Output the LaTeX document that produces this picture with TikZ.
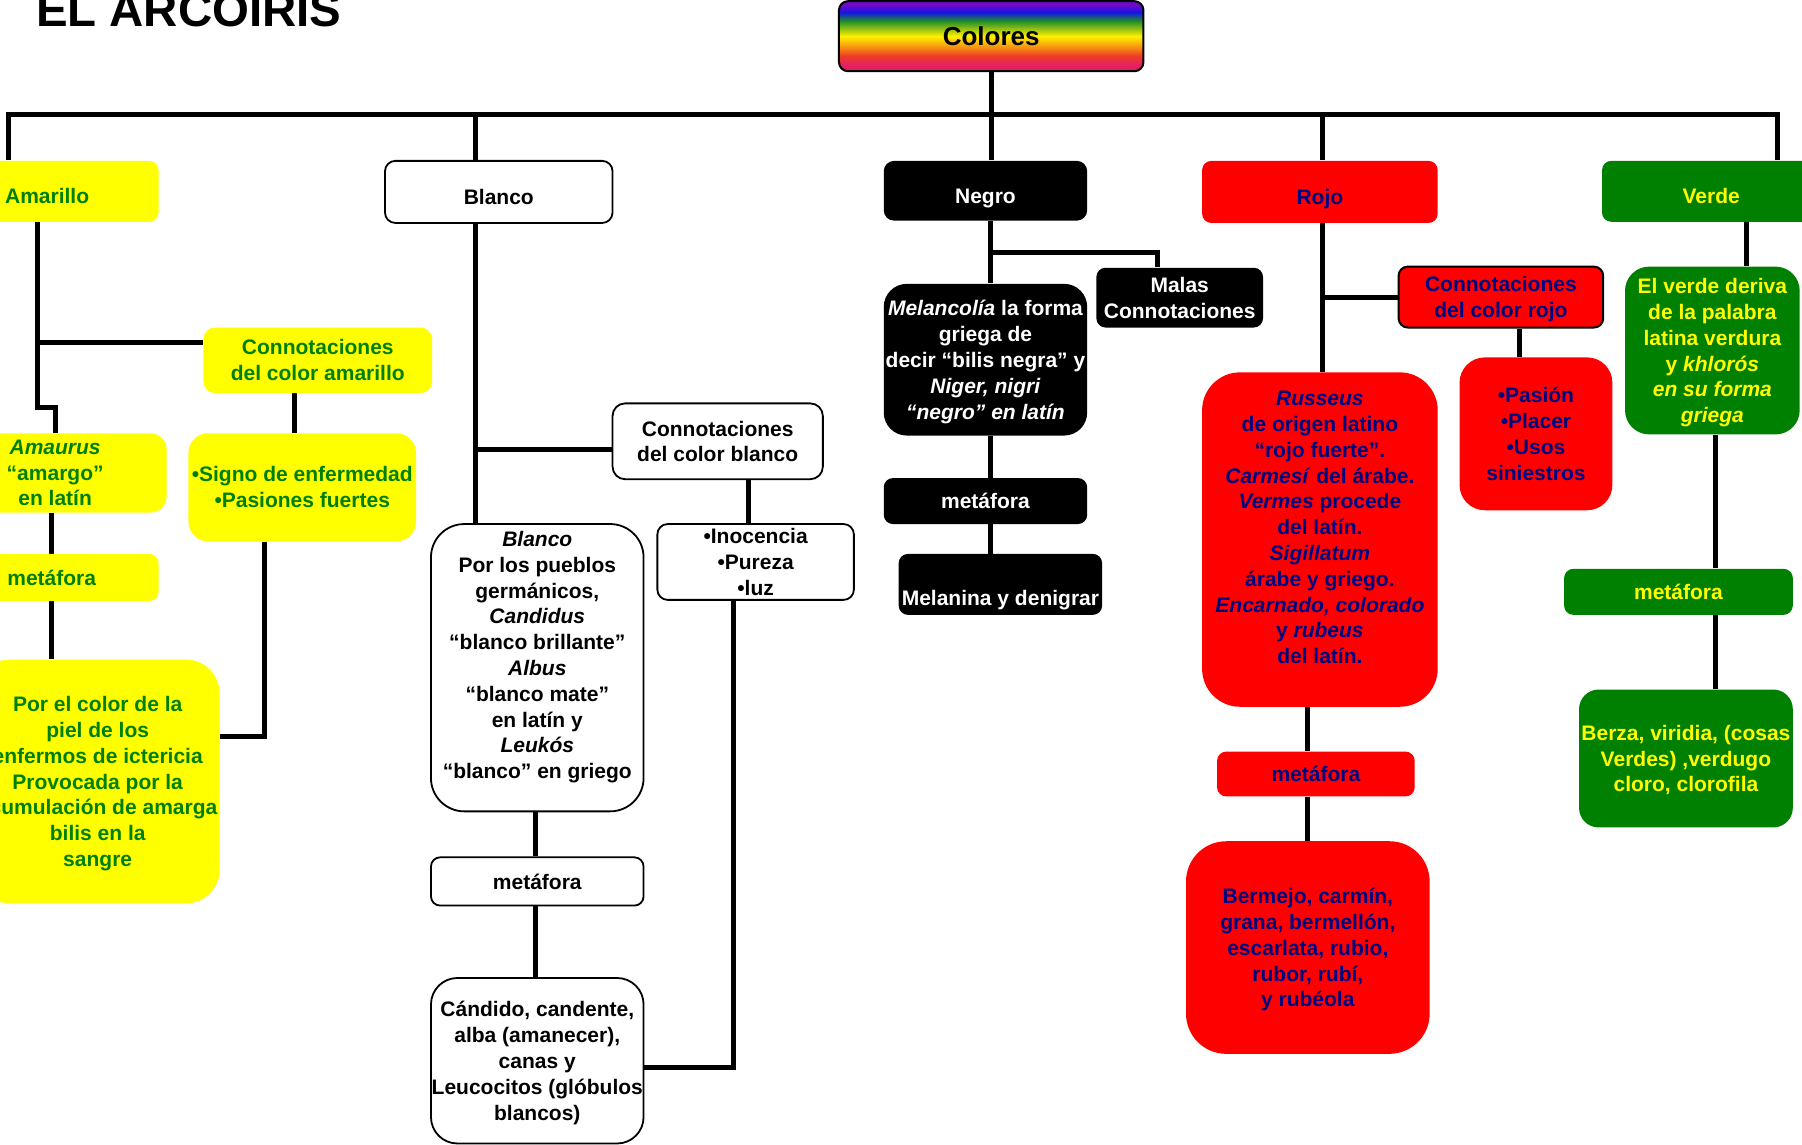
\documentclass[tikz,border=0pt]{standalone}
\usepackage{fontspec}
\setmainfont{Liberation Sans}
\usetikzlibrary{backgrounds}

\definecolor{yel}{RGB}{255,255,0}
\definecolor{grn}{RGB}{0,128,0}
\definecolor{navyblue}{RGB}{0,0,128}
\definecolor{rd}{RGB}{255,0,0}
% rainbow bands of the title box, bottom to top
\definecolor{rbA}{RGB}{228,32,100}
\definecolor{rbB}{RGB}{238,60,40}
\definecolor{rbC}{RGB}{245,130,20}
\definecolor{rbD}{RGB}{255,240,0}
\definecolor{rbE}{RGB}{30,140,40}
\definecolor{rbF}{RGB}{20,20,230}
\definecolor{rbG}{RGB}{110,10,200}
\pgfdeclareverticalshading{rainbowband}{100bp}{color(0bp)=(rbA); color(29bp)=(rbA); color(36bp)=(rbB); color(41bp)=(rbC); color(50bp)=(rbD); color(61bp)=(rbE); color(67bp)=(rbF); color(72bp)=(rbG); color(100bp)=(rbG)}

\newcommand\pxu{0.5746pt}

\tikzset{
  bx/.style={rectangle, inner sep=0pt, align=center, text depth=0pt, font=\bfseries\fontsize{10.5}{12.9}\selectfont},
  header/.style={text height=12.6pt, text depth=0pt},
  sz/.style n args={3}{minimum width=#1*\pxu, minimum height=#2*\pxu, rounded corners=#3*\pxu},
  ybox/.style={bx, fill=yel, text=grn},
  wbox/.style={bx, fill=white, draw=black, line width=0.9pt},
  kbox/.style={bx, fill=black, text=white},
  rbox/.style={bx, fill=rd, text=navyblue},
  gbox/.style={bx, fill=grn, text=yel},
  link/.style={line width=2.5pt}
}

\begin{document}
\begin{tikzpicture}[x=\pxu, y=-\pxu]
\useasboundingbox (0,0) rectangle (1568,996);

% title
\node[anchor=base west, inner sep=0pt, font=\bfseries\fontsize{23.7}{28}\selectfont] (title) at (31,23) {EL ARCOIRIS};

% root
\node[bx, sz={265}{61}{8}, draw=black, line width=1pt, shade, shading=rainbowband,
      font=\bfseries\fontsize{13}{15}\selectfont] (colores) at (862.5,31.5) {Colores};

% amarillo
\node[ybox, header, sz={194}{53}{8}] (amar) at (41,166.5) {Amarillo};
\node[ybox, sz={199}{57}{10}] (conam) at (276.5,313.5) {Connotaciones\\del color amarillo};
\node[ybox, sz={194}{69}{14}] (amaurus) at (48,411.5) {\textit{Amaurus}\\“amargo”\\en latín};
\node[ybox, sz={186}{41}{8}] (metaA) at (45,502.5) {metáfora};
\node[ybox, sz={212}{212}{29}] (icter) at (85,680) {Por el color de la\\piel de los\\enfermos de ictericia\\Provocada por la\\acumulación de amarga\\bilis en la\\sangre};
\node[ybox, sz={198}{94}{17}] (signo) at (263,424) {•Signo de enfermedad\\•Pasiones fuertes};

% blanco
\node[wbox, header, sz={198}{54}{9}] (blanco) at (434,167) {Blanco};
\node[wbox, sz={183}{66}{11}] (conbl) at (624.5,384) {Connotaciones\\del color blanco};
\node[wbox, sz={171}{66}{9}] (inoc) at (657.5,489) {•Inocencia\\•Pureza\\•luz};
\node[wbox, sz={185}{250}{29}] (bital) at (467.5,581) {};
\node[bx] (bitaltext) at (467.5,570) {\textit{Blanco}\\Por los pueblos\\germánicos,\\\textit{Candidus}\\“blanco brillante”\\\textit{Albus}\\“blanco mate”\\en latín y\\\textit{Leukós}\\“blanco” en griego};
\node[wbox, sz={185}{42}{8}] (metaB) at (467.5,767) {metáfora};
\node[wbox, sz={185}{144}{23}] (cand) at (467.5,923) {Cándido, candente,\\alba (amanecer),\\canas y\\Leucocitos (glóbulos\\blancos)};

% negro
\node[kbox, header, sz={177}{52}{9}] (negro) at (857.5,166) {Negro};
\node[kbox, sz={145}{52}{8}] (malas) at (1026.5,259) {Malas\\Connotaciones};
\node[kbox, sz={177}{132}{20}] (melan) at (857.5,313) {\textit{Melancolía} la forma\\griega de\\decir “bilis negra” y\\\textit{Niger, nigri}\\\textit{“negro” en latín}};
\node[kbox, sz={177}{40}{8}] (metaN) at (857.5,436) {metáfora};
\node[kbox, sz={177}{53}{8}] (melanina) at (870.5,508.5) {};
\node[bx, text=white] (melaninatext) at (870.5,520) {Melanina y denigrar};

% rojo
\node[rbox, header, sz={205}{54}{8}] (rojo) at (1148.5,167) {Rojo};
\node[rbox, draw=black, line width=1pt, sz={178}{53}{8}] (conro) at (1306,258.5) {Connotaciones\\del color rojo};
\node[rbox, sz={133}{133}{22}] (pasion) at (1336.5,377.5) {•Pasión\\•Placer\\•Usos\\siniestros};
\node[rbox, sz={205}{291}{33}] (russ) at (1148.5,469.5) {};
\node[bx, text=navyblue] (russtext) at (1148.5,459) {\textit{Russeus}\\de origen latino\\“rojo fuerte”.\\\textit{Carmesí} del árabe.\\\textit{Vermes} procede\\del latín.\\\textit{Sigillatum}\\árabe y griego.\\\textit{Encarnado, colorado}\\y \textit{rubeus}\\del latín.};
\node[rbox, sz={172}{39}{8}] (metaR) at (1145,673.5) {metáfora};
\node[rbox, sz={212}{185}{35}] (berm) at (1138,824.5) {Bermejo, carmín,\\grana, bermellón,\\escarlata, rubio,\\rubor, rubí,\\y rubéola};

% verde
\node[gbox, header, sz={190}{53}{8}] (verde) at (1489,166.5) {Verde};
\node[gbox, sz={152}{146}{21}] (elverde) at (1490,305) {El verde deriva\\de la palabra\\latina verdura\\y \textit{khlorós}\\\textit{en su forma}\\\textit{griega}};
\node[gbox, sz={199}{40}{8}] (metaV) at (1460.5,515) {metáfora};
\node[gbox, sz={186}{120}{17}] (berza) at (1467,660) {Berza, viridia, (cosas\\Verdes) ,verdugo\\cloro, clorofila};

% connectors, behind the boxes
\begin{scope}[on background layer]
\begin{scope}[link]
  \coordinate (busL) at (7,100);
  \coordinate (busR) at (1547,100);
  \draw (colores.south) -- (colores.south |- negro.north);
  \draw (busL |- amar.north) -- (busL) -- (busR) -- (busR |- verde.north);
  \coordinate (jBl) at (414,100);  \draw (jBl) -- (jBl |- blanco.north);
  \coordinate (jRo) at (1151,100); \draw (jRo) -- (jRo |- rojo.north);

  % amarillo branch
  \coordinate (aK1) at (33,355); \coordinate (aK2) at (48,355);
  \draw (aK1 |- amar.south) -- (aK1) -- (aK2) -- (aK2 |- amaurus.north);
  \coordinate (aBr) at (33,298); \draw (aBr) -- (aBr -| conam.west);
  \coordinate (aV) at (45,0);
  \draw (aV |- amaurus.south) -- (aV |- metaA.north);
  \draw (aV |- metaA.south) -- (aV |- icter.north);
  \coordinate (sV) at (256,0); \draw (sV |- conam.south) -- (sV |- signo.north);
  \coordinate (sK) at (230,641); \draw (sK |- signo.south) -- (sK) -- (sK -| icter.east);

  % blanco branch
  \coordinate (bV) at (414,0); \draw (bV |- blanco.south) -- (bV |- bital.north);
  \coordinate (bBr) at (414,391); \draw (bBr) -- (bBr -| conbl.west);
  \coordinate (cV) at (651,0); \draw (cV |- conbl.south) -- (cV |- inoc.north);
  \coordinate (iK) at (638,929); \draw (iK |- inoc.south) -- (iK) -- (iK -| cand.east);
  \coordinate (mV) at (466,0);
  \draw (mV |- bital.south) -- (mV |- metaB.north);
  \draw (mV |- metaB.south) -- (mV |- cand.north);

  % negro branch
  \coordinate (nV) at (862,0);
  \draw (nV |- negro.south) -- (nV |- melan.north);
  \draw (nV |- melan.south) -- (nV |- metaN.north);
  \draw (nV |- metaN.south) -- (nV |- melanina.north);
  \coordinate (nBr) at (862,220); \coordinate (nK) at (1007,220);
  \draw (nBr) -- (nK) -- (nK |- malas.north);

  % rojo branch
  \coordinate (rV) at (1151,0); \draw (rV |- rojo.south) -- (rV |- russ.north);
  \coordinate (rBr) at (1151,259); \draw (rBr) -- (rBr -| conro.west);
  \coordinate (pV) at (1322,0); \draw (pV |- conro.south) -- (pV |- pasion.north);
  \coordinate (rV2) at (1138,0);
  \draw (rV2 |- russ.south) -- (rV2 |- metaR.north);
  \draw (rV2 |- metaR.south) -- (rV2 |- berm.north);

  % verde branch
  \coordinate (vV) at (1520,0); \draw (vV |- verde.south) -- (vV |- elverde.north);
  \coordinate (vV2) at (1493,0);
  \draw (vV2 |- elverde.south) -- (vV2 |- metaV.north);
  \draw (vV2 |- metaV.south) -- (vV2 |- berza.north);
\end{scope}
\end{scope}
\end{tikzpicture}
\end{document}
